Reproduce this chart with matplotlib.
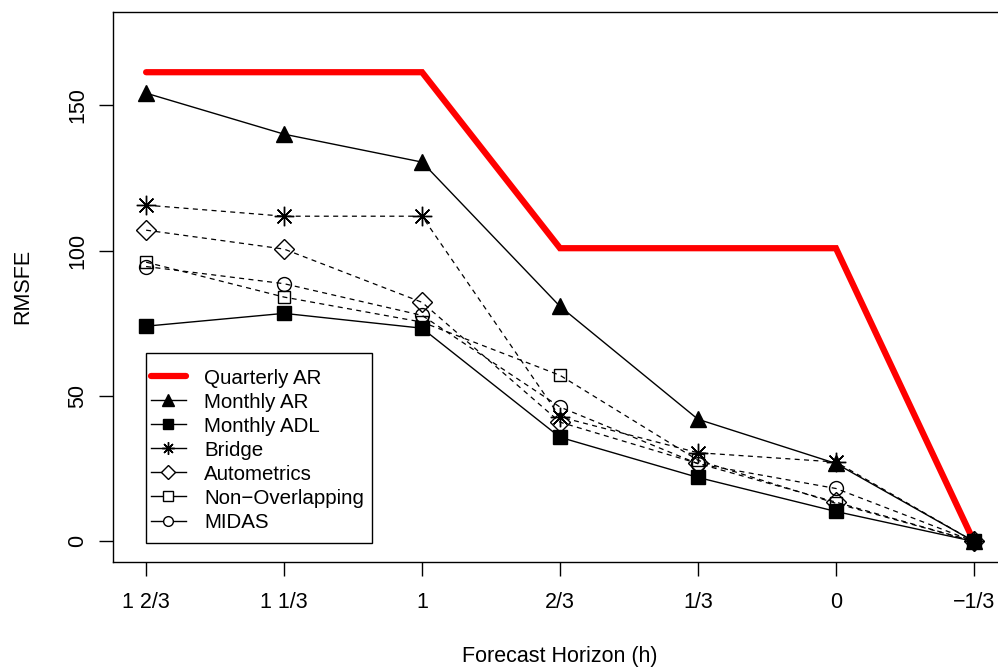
import numpy as np
import matplotlib
matplotlib.use("Agg")
import matplotlib.pyplot as plt
from matplotlib.lines import Line2D
from matplotlib.patches import Rectangle

plt.rcParams['font.family'] = ['Liberation Sans', 'DejaVu Sans']

# horizons
horizons = ["1 2/3", "1 1/3", "1", "2/3", "1/3", "0", "\u22121/3"]

quarterly_ar = [161.3, 161.3, 161.3, 100.8, 100.8, 100.8, 0]
monthly_ar = [154.1, 140.0, 130.4, 80.8, 42.0, 26.8, 0]
monthly_adl = [74.0, 78.4, 73.3, 35.8, 22.0, 10.3, 0]
bridge = [115.6, 111.8, 111.8, 42.8, 30.5, 27.3, 0]
autometrics = [107.0, 100.5, 82.2, 41.0, 26.8, 13.5, 0]
non_overlap = [96.0, 84.0, 75.4, 57.1, 27.9, 13.1, 0]
midas = [94.5, 88.6, 77.7, 46.2, 26.7, 18.2, 0]

x = np.arange(len(horizons))
FS = 15.5
LFS = 14.8
W, H = 998, 667

fig = plt.figure(figsize=(9.98, 6.67), dpi=100)
# axes box: left 113px, top 12px, bottom 561px; right edge runs past the image
ax = fig.add_axes([113 / W, 1 - 561.5 / H, (1007 - 113) / W, (561.5 - 12) / H])

asterisk = (8, 2, 0)
dash = (4, 3.5)

ax.plot(x, quarterly_ar, color='red', lw=4.5, solid_capstyle='round', solid_joinstyle='miter', zorder=2)
ax.plot(x, monthly_ar, color='black', lw=1, marker='^', ms=11, zorder=3)
ax.plot(x, monthly_adl, color='black', lw=1, marker='s', ms=9.5, zorder=3)
ax.plot(x, bridge, color='black', lw=0.9, dashes=dash, marker=asterisk, ms=14, mew=1, zorder=3)
ax.plot(x, autometrics, color='black', lw=0.9, dashes=dash, marker='D', ms=10, mfc='none', mew=1, zorder=3)
ax.plot(x, non_overlap, color='black', lw=0.9, dashes=dash, marker='s', ms=9, mfc='none', mew=1, zorder=3)
ax.plot(x, midas, color='black', lw=0.9, dashes=dash, marker='o', ms=10, mfc='none', mew=1, zorder=3)

ax.set_xlim(-0.24, 6.24)
ax.set_ylim(-6.9, 182)
ax.set_xticks(x)
ax.set_xticklabels(horizons)
ax.set_yticks([0, 50, 100, 150])
ax.set_yticklabels(["0", "50", "100", "150"], rotation=90, va='center')
ax.tick_params(axis='both', direction='out', length=10, width=1, labelsize=FS, pad=8)
ax.tick_params(axis='x', pad=12)
for s in ax.spines.values():
    s.set_linewidth(1)

ax.set_xlabel("Forecast Horizon (h)", fontsize=FS, labelpad=24)
ax.set_ylabel("RMSFE", fontsize=FS, labelpad=24)

handles = [
    Line2D([], [], color='red', lw=4.5, solid_capstyle='round'),
    Line2D([], [], color='black', lw=1, marker='^', ms=8),
    Line2D([], [], color='black', lw=1, marker='s', ms=7),
    Line2D([], [], color='black', lw=1, marker=asterisk, ms=9, mew=1),
    Line2D([], [], color='black', lw=1, marker='D', ms=7, mfc='white', mew=1),
    Line2D([], [], color='black', lw=1, marker='s', ms=6.5, mfc='white', mew=1),
    Line2D([], [], color='black', lw=1, marker='o', ms=7, mfc='white', mew=1),
]
labels = ["Quarterly AR", "Monthly AR", "Monthly ADL", "Bridge",
          "Autometrics", "Non\u2212Overlapping", "MIDAS"]

# legend frame drawn separately (R-style box with wider top/bottom padding)
fig.patches.append(Rectangle((146 / W, 1 - 542.5 / H), (372 - 146) / W, (542.5 - 352.5) / H,
                             transform=fig.transFigure, fill=True, facecolor='white',
                             edgecolor='black', lw=1, zorder=5))
leg = fig.legend(handles, labels, loc='upper left',
                 bbox_to_anchor=(150.5 / W, 1 - 368.5 / H),
                 borderaxespad=0, fontsize=LFS, frameon=False,
                 handlelength=1.75, handletextpad=0.85, labelspacing=0.245, borderpad=0)
leg.set_zorder(6)

fig.savefig("out.png", dpi=100)
